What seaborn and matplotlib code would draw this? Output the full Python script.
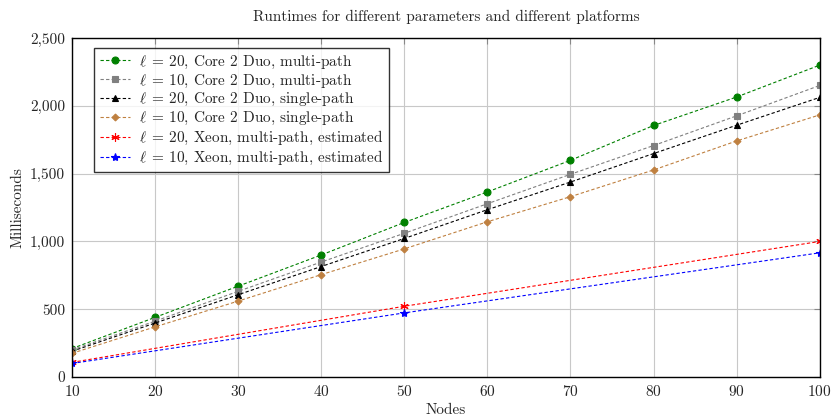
import numpy as np
import pandas as pd
import matplotlib
matplotlib.use("Agg")
import matplotlib.pyplot as plt
from matplotlib.ticker import FuncFormatter
import seaborn as sns

# Data
nodes = [10, 20, 30, 40, 50, 60, 70, 80, 90, 100]
xeon_nodes = [10, 50, 100]

c2d_multi_20 = [210, 440, 670, 900, 1140, 1365, 1598, 1855, 2065, 2300]
c2d_multi_10 = [200, 412, 632, 848, 1060, 1278, 1495, 1707, 1926, 2150]
c2d_single_20 = [190, 398, 607, 815, 1022, 1234, 1438, 1648, 1857, 2062]
c2d_single_10 = [175, 370, 560, 755, 945, 1145, 1330, 1527, 1741, 1933]
xeon_multi_20 = [108, 522, 1000]
xeon_multi_10 = [100, 473, 916]

labels = [
    r"$\ell\;=\,20$, Core 2 Duo, multi-path",
    r"$\ell\;=\,10$, Core 2 Duo, multi-path",
    r"$\ell\;=\,20$, Core 2 Duo, single-path",
    r"$\ell\;=\,10$, Core 2 Duo, single-path",
    r"$\ell\;=\,20$, Xeon, multi-path, estimated",
    r"$\ell\;=\,10$, Xeon, multi-path, estimated",
]

sns.set_style("white")
plt.rcParams["font.family"] = ["cmr10", "DejaVu Serif"]
plt.rcParams["mathtext.fontset"] = "cm"
plt.rcParams["axes.unicode_minus"] = False
plt.rcParams["axes.formatter.use_mathtext"] = True

fig = plt.figure(figsize=(8.33, 4.18), dpi=100)
ax = fig.add_axes([0.0864, 0.098, 0.8976, 0.811])

series = [
    (nodes, c2d_multi_20, "#008000", "o", 5),
    (nodes, c2d_multi_10, "#808080", "s", 5),
    (nodes, c2d_single_20, "black", "^", 5),
    (nodes, c2d_single_10, "#BF8040", "D", 3.5),
    (xeon_nodes, xeon_multi_20, "red", (6, 2, 0), 6),
    (xeon_nodes, xeon_multi_10, "blue", "*", 6),
]

for (xs, ys, col, mk, ms), lab in zip(series, labels):
    df = pd.DataFrame({"Nodes": xs, "Milliseconds": ys})
    sns.lineplot(data=df, x="Nodes", y="Milliseconds", ax=ax, color=col,
                 marker=mk, markersize=ms, markeredgecolor=col,
                 markeredgewidth=0.8, linestyle=(0, (3, 2)), linewidth=0.8,
                 label=lab)

ax.set_xlim(10, 100)
ax.set_ylim(0, 2500)
ax.set_xticks(range(10, 101, 10))
ax.set_yticks(range(0, 2501, 500))
ax.yaxis.set_major_formatter(FuncFormatter(lambda v, p: f"{int(v):,}"))
ax.grid(True, color="#c8c8c8", linewidth=0.8)
ax.tick_params(direction="in", top=True, right=True, length=4,
               color="#888888", labelsize=11, pad=5)
for s in ax.spines.values():
    s.set_color("black")
    s.set_linewidth(1.0)

ax.set_xlabel("Nodes", fontsize=11, labelpad=3)
ax.set_ylabel("Milliseconds", fontsize=11, labelpad=4)
ax.set_title("Runtimes for different parameters and different platforms",
             fontsize=11, pad=12)

leg = ax.legend(loc="upper left", bbox_to_anchor=(0.03, 0.97), fontsize=11,
                frameon=True, fancybox=False, edgecolor="black",
                handlelength=2.0, handletextpad=0.6, borderpad=0.35,
                labelspacing=0.12, borderaxespad=0)
leg.get_frame().set_linewidth(1.0)

fig.savefig("out.png", dpi=100)
